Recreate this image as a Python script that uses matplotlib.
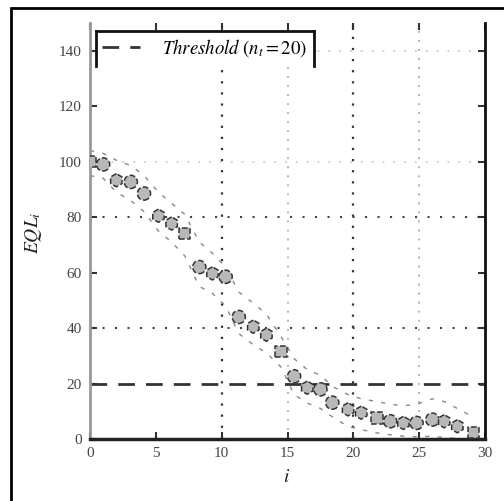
import matplotlib
matplotlib.use('Agg')
import matplotlib.pyplot as plt
from matplotlib.lines import Line2D
from matplotlib.patches import Rectangle

# ---- data ----
x_vals = [0.0, 1.0, 2.0, 3.1, 4.1, 5.2, 6.2, 7.2, 8.3, 9.3, 10.3, 11.3, 12.4, 13.4,
          14.5, 15.5, 16.5, 17.5, 18.4, 19.6, 20.6, 21.8, 22.8, 23.8, 24.8, 26.0,
          26.9, 27.9, 29.1]
eql = [100, 99, 93.3, 92.7, 88.5, 80.5, 77.7, 74.0, 62.0, 59.7, 58.5, 44.0, 40.5,
       37.6, 31.6, 22.6, 18.5, 17.9, 13.1, 10.7, 9.5, 7.6, 6.4, 5.8, 5.8, 7.0,
       6.4, 4.6, 2.2]
upper = [104, 103, 100.5, 98.6, 95, 89, 85, 81, 71, 67, 62, 53, 49, 45, 37, 29,
         25, 23, 19, 16, 14.5, 13.5, 12.5, 12, 12.5, 14.5, 13.5, 11, 8]
lower = [95, 94, 89, 86, 82, 75, 71, 66, 55, 52.5, 48, 38, 34, 31, 26, 16, 13,
         11, 8, 4.5, 3.4, 2.2, 1.5, 1.0, 0.8, 1.0, 0.5, 0.2, 0.0]
threshold = 20
threshold_label = r'$Threshold\ (n_t = 20)$'
xticks = [0, 5, 10, 15, 20, 25, 30]
yticks = [0, 20, 40, 60, 80, 100, 120, 140]
grid_x_dark = [10, 20]
grid_x_light = [15, 25]
grid_y_dark = [40, 80]
grid_y_light = [100, 140]
marker_cycle = ['s', 'o', 'h', 'o', 'o', 'h', 'h']

plt.rcParams['mathtext.fontset'] = 'stix'
plt.rcParams['font.family'] = ['Liberation Serif', 'DejaVu Serif']

fig = plt.figure(figsize=(5.04, 5.01), dpi=100)
ax = fig.add_axes([90/504, 1-439/501, 395/504, 416/501])
ax.set_xlim(0, 30)
ax.set_ylim(0, 150)

# grid
for gx in grid_x_dark:
    ax.axvline(gx, color='#333333', ls=(0, (1, 4)), lw=1.6, zorder=1)
for gx in grid_x_light:
    ax.axvline(gx, color='#aaaaaa', ls=(0, (1, 4)), lw=1.3, zorder=1)
for gy in grid_y_dark:
    ax.axhline(gy, color='#444444', ls=(0, (1, 5)), lw=1.5, zorder=1)
for gy in grid_y_light:
    ax.axhline(gy, color='#cccccc', ls=(0, (1, 5)), lw=1.3, zorder=1)

# band
ax.plot(x_vals, upper, color='#888888', ls=(0, (3, 6)), lw=1.0, zorder=2)
ax.plot(x_vals, lower, color='#888888', ls=(0, (3, 6)), lw=1.0, zorder=2)

# threshold
thr = ax.axhline(threshold, color='#333333', ls=(0, (6, 4)), lw=2.0, zorder=2,
                 label=threshold_label)

# markers
groups = {}
for i, (xv, yv) in enumerate(zip(x_vals, eql)):
    m = marker_cycle[i % len(marker_cycle)]
    groups.setdefault(m, ([], []))
    groups[m][0].append(xv)
    groups[m][1].append(yv)
for m, (gx, gy) in groups.items():
    s = 65 if m == 's' else 90
    ax.scatter(gx, gy, s=s, marker=m, facecolor='#b8b8b8', edgecolor='#333333',
               linewidths=1.1, linestyles='--', zorder=4, clip_on=True)

# spines
ax.spines['top'].set_visible(False)
ax.spines['left'].set_color('#999999')
ax.spines['left'].set_linewidth(2.0)
ax.spines['bottom'].set_color('#222222')
ax.spines['bottom'].set_linewidth(2.5)
ax.spines['right'].set_color('#111111')
ax.spines['right'].set_linewidth(2.0)

ax.set_xticks(xticks)
ax.set_yticks(yticks)
ax.tick_params(direction='in', length=5, width=1.5, color='#333333',
               top=True, right=True, labelsize=11, labelcolor='#444444', pad=6)

fig.text(33/504, 1-233/501, r'$EQL_i$', rotation=90, ha='center', va='center',
         fontsize=14, color='#222222')
fig.text(287/504, 1-477/501, r'$i$', ha='center', va='center', fontsize=14,
         color='#222222')

leg = ax.legend(handles=[thr], loc='upper left', bbox_to_anchor=(0.0, 0.995),
                frameon=True, fancybox=False, framealpha=1.0, facecolor='white',
                edgecolor='none', fontsize=13.5, handlelength=2.0, borderpad=0.35,
                handletextpad=1.2, borderaxespad=0.3)
leg.set_zorder(5)
fig.canvas.draw()
bb = leg.get_window_extent()
x0, y0, x1, y1 = bb.x0, bb.y0, bb.x1, bb.y1
for xs, ys in [([x0, x0], [y0, y1]), ([x0, x1], [y1, y1]), ([x1, x1], [y1, y0])]:
    fig.add_artist(Line2D(xs, ys, transform=None, color='#111111', lw=2.0))

# outer frame
fig.add_artist(Rectangle((11/504, -0.1), 1.2, 1-8/501+0.1, transform=fig.transFigure,
                         fill=False, edgecolor='black', lw=2.0))

fig.savefig('out.png', dpi=100)
